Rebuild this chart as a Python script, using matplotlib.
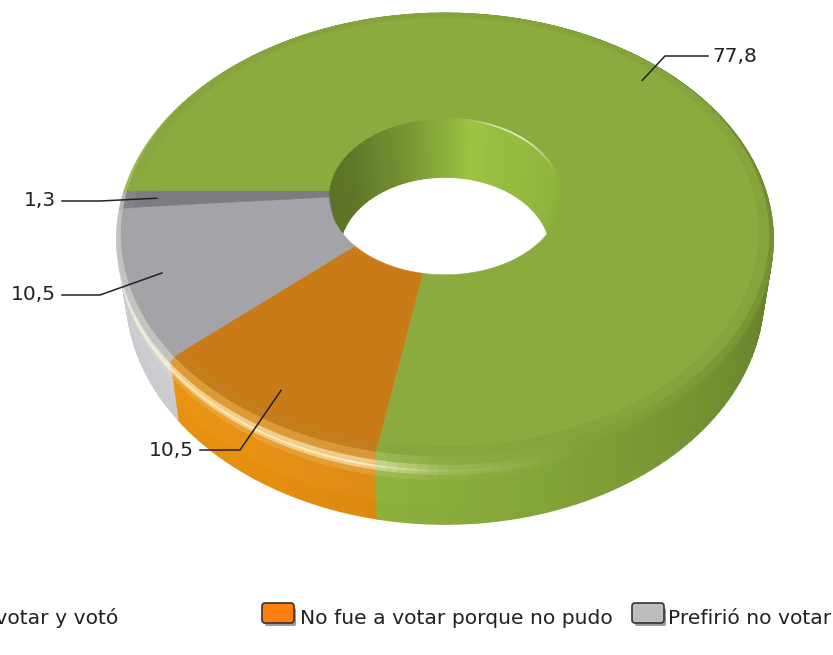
import numpy as np
import matplotlib
matplotlib.use("Agg")
import matplotlib.pyplot as plt
from matplotlib.collections import PolyCollection
from matplotlib.patches import Polygon, FancyBboxPatch

# data, in drawing order clockwise from the near side
categories = ["No fue a votar porque no pudo", "Prefirió no votar", "Otros", "Fue a votar y votó"]
values = [10.5, 10.5, 1.3, 77.8]
value_labels = ["10,5", "10,5", "1,3", "77,8"]
legend_labels = ["Fue a votar y votó", "No fue a votar porque no pudo", "Prefirió no votar"]

top_colors = ["#c87b16", "#a3a3a8", "#7b7b80", "#8bab3f"]
side_colors = ["#e58f10", "#c6c8cc", "#c6c8cc", "#93b83e"]

START = 190.0  # degrees clockwise from the top of the ring
CX, CY = 445.0, 191.0
A, B, C = 216.0, -0.2, 322.0  # perspective of the ring plane
R_IN, R_FLAT = 0.36, 0.955


def project(r, th, z=0.0, drop=57.0, shrink=0.03):
    t = np.radians(th)
    xw, yw = r * np.sin(t), -r * np.cos(t)
    w = 1 + B * yw
    x = C * xw / w
    y = A * yw / w
    k = 1 - shrink * z
    return CX + x * k, CY + y * k + drop * z / w


def mix(c1, c2, f):
    return tuple(np.array(c1) * (1 - f) + np.array(c2) * f)


def steps(a0, a1):
    n = max(2, int(np.ceil((a1 - a0) / 1.5)))
    return np.linspace(a0, a1, n + 1)


rgb = matplotlib.colors.to_rgb
fig = plt.figure(figsize=(8.33, 6.55), dpi=100)
ax = fig.add_axes([0, 0, 1, 1])
ax.set_xlim(0, 833)
ax.set_ylim(655, 0)
ax.axis("off")

total = sum(values)
edges = START + np.concatenate([[0], np.cumsum(values)]) / total * 360

# outer side and rounded rim, as profile strips
prof_r = [R_FLAT, 0.985, 1.0, 1.0, 1.0, 1.0, 1.0, 1.0, 1.0]
prof_z = [0.0, 0.0, 0.05, 0.13, 0.16, 0.21, 0.3, 0.7, 1.0]
prof_h = [0.0, 0.1, 0.3, 0.95, 0.95, 0.3, 0.05, 0.0, 0.0]
prof_s = [-0.1, 0.35, 0.8, 1.0, 1.0, 1.0, 1.0, 1.0, 0.96]
glow_th = [120, 160, 180, 192, 270, 295, 330]
glow_v = [0.0, 0.0, 0.25, 0.95, 0.95, 0.3, 0.0]

quads, colors = [], []
for j in range(len(prof_r) - 2, -1, -1):  # deep strips first, they fold under at the far side
    for i in range(len(values)):
        a = steps(edges[i], edges[i + 1])
        for th0, th1 in zip(a[:-1], a[1:]):
            mid = (th0 + th1) / 2
            light = (1 + np.cos(np.radians(mid - 235))) / 2
            glow = np.interp(mid % 360, glow_th, glow_v)
            p0 = project(prof_r[j], th0, prof_z[j])
            p1 = project(prof_r[j], th1, prof_z[j])
            p2 = project(prof_r[j + 1], th1, prof_z[j + 1])
            p3 = project(prof_r[j + 1], th0, prof_z[j + 1])
            quads.append([p0, p1, p2, p3])
            s = (prof_s[j] + prof_s[j + 1]) / 2
            h = (prof_h[j] + prof_h[j + 1]) / 2
            lit = 0.62 + 0.40 * light
            col = np.array(rgb(side_colors[i])) * lit
            base = np.array(rgb(top_colors[i])) * (0.94 + 0.06 * (1 - light))
            if s < 0:
                c = base * (1 + s * 0.4)
            else:
                c = mix(base, col, s)
            c = mix(c, (1, 0.98, 0.86), h * glow)
            colors.append(np.clip(c, 0, 1))
ax.add_collection(PolyCollection(quads, facecolors=colors, edgecolors=colors, linewidths=1.0, zorder=1))

# wall of the hole, shaded around the far side
wall_th = [-90, -60, -30, 0, 15, 30, 60, 90]
wall_sh = [0.62, 0.64, 0.76, 0.95, 1.07, 1.03, 1.0, 0.95]
quads, colors = [], []
for i in range(len(values)):
    a = steps(edges[i], edges[i + 1])
    for th0, th1 in zip(a[:-1], a[1:]):
        p0 = project(R_IN, th0, 0, drop=56, shrink=0.09)
        p1 = project(R_IN, th1, 0, drop=56, shrink=0.09)
        p2 = project(R_IN, th1, 1, drop=56, shrink=0.09)
        p3 = project(R_IN, th0, 1, drop=56, shrink=0.09)
        mid = ((th0 + th1) / 2 + 180) % 360 - 180
        if abs(mid) > 100:
            continue  # near side of the wall is hidden by the top
        quads.append([p0, p1, p2, p3])
        sh = np.interp(mid, wall_th, wall_sh)
        colors.append(np.clip(np.array(rgb(side_colors[i])) * sh, 0, 1))
ax.add_collection(PolyCollection(quads, facecolors=colors, edgecolors=colors, linewidths=0.8, zorder=2))

# flat top of each slice
for i in range(len(values)):
    a = np.linspace(edges[i], edges[i + 1], 120)
    ox, oy = project(R_FLAT, a)
    ix, iy = project(R_IN, a[::-1])
    pts = np.column_stack([np.concatenate([ox, ix]), np.concatenate([oy, iy])])
    ax.add_patch(Polygon(pts, closed=True, facecolor=top_colors[i], edgecolor=top_colors[i], lw=0.4, zorder=3))

# small highlight on the hole's lip
a = np.arange(-5, 85, 1.5)
for th0, th1 in zip(a[:-1], a[1:]):
    x, y = project(R_IN, np.array([th0, th1]))
    f = np.sin(np.radians((th0 + 5) * 2)) ** 2
    ax.plot(x, y, color=mix(rgb(top_colors[3]), (1, 1, 0.9), 0.75 * f), lw=1.2, zorder=4, solid_capstyle="round")

# leaders and value labels
mids = (edges[:-1] + edges[1:]) / 2
elbows = [(240, 450), (100, 295), (100, 201), (665, 56)]
ends = [(200, 450), (62, 295), (62, 201), (708, 56)]
for i in range(len(values)):
    x, y = project(0.89, mids[i])
    ax.plot([x, elbows[i][0], ends[i][0]], [y, elbows[i][1], ends[i][1]],
            color="#222222", lw=1.1, zorder=5)
    if ends[i][0] > 400:
        ax.text(ends[i][0] + 4, ends[i][1], value_labels[i], ha="left", va="center",
                fontsize=14.5, color="#222222", zorder=6)
    else:
        ax.text(ends[i][0] - 6, ends[i][1], value_labels[i], ha="right", va="center",
                fontsize=14.5, color="#222222", zorder=6)

# legend
leg_colors = ["#8fb63c", "#ff7f0e", "#bdbdbd"]
leg_swatch = [-60, 262, 632]
leg_text = [118, 300, 668]
for lab, col, sx, tx in zip(legend_labels, leg_colors, leg_swatch, leg_text):
    ax.add_patch(FancyBboxPatch((sx + 3, 608), 31, 18, boxstyle="round,pad=0,rounding_size=2",
                                facecolor="#9a9a9a", edgecolor="none", zorder=1))
    ax.add_patch(FancyBboxPatch((sx, 603), 32, 20, boxstyle="round,pad=0,rounding_size=3",
                                facecolor=col, edgecolor="#333333", lw=1.2, zorder=2))
    ax.text(tx, 618, lab, ha="right" if tx == 118 else "left", va="center",
            fontsize=14.6, color="#222222")

fig.savefig("out.png", dpi=100)
